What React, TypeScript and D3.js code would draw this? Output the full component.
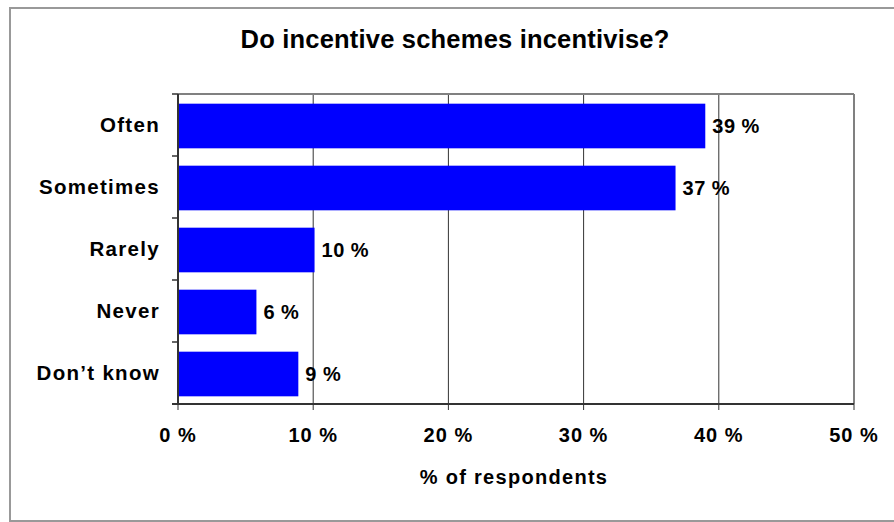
import React from "react";
import * as d3 from "d3";

const categories = ["Often", "Sometimes", "Rarely", "Never", "Don\u2019t know"];
const values = [39.0, 36.8, 10.1, 5.8, 8.9];
const ticks = [0, 10, 20, 30, 40, 50];
const title = "Do incentive schemes incentivise?";
const xTitle = "% of respondents";

const W = 894;
const H = 522;
const plot = { left: 178, right: 854, top: 94, bottom: 404 };
const FONT = "'Liberation Sans', Arial, sans-serif";

export default function App() {
  const x = d3.scaleLinear().domain([0, 50]).range([plot.left, plot.right]);
  const y = d3
    .scaleBand<string>()
    .domain(categories)
    .range([plot.top + 1, plot.bottom + 1])
    .paddingInner(0.28)
    .paddingOuter(0.14);
  const band = d3
    .scaleBand<string>()
    .domain(categories)
    .range([plot.top, plot.bottom]);
  const boundaries = [plot.top, ...categories.map((c) => (band(c) as number) + band.bandwidth())];

  return (
    <svg
      width={W}
      height={H}
      style={{ position: "absolute", left: 0, top: 0, background: "#fff" }}
    >
      <rect x={10} y={8} width={W + 20} height={513} fill="#fff" stroke="#999" strokeWidth={2} />
      <text
        x={455}
        y={48}
        textAnchor="middle"
        fontFamily={FONT}
        fontWeight="bold"
        fontSize={25.5}
        letterSpacing={0.2}
        fill="#000"
      >
        {title}
      </text>

      {/* gridlines */}
      {ticks.slice(1, -1).map((t) => (
        <line key={t} x1={x(t)} x2={x(t)} y1={plot.top} y2={plot.bottom} stroke="#333" strokeWidth={1} />
      ))}
      {/* plot frame top/right */}
      <line x1={plot.left} x2={plot.right} y1={plot.top} y2={plot.top} stroke="#808080" strokeWidth={2} />
      <line x1={plot.right} x2={plot.right} y1={plot.top} y2={plot.bottom} stroke="#808080" strokeWidth={2} />

      {/* bars */}
      {categories.map((c, i) => (
        <rect
          key={c}
          x={x(0)}
          y={y(c)}
          width={x(values[i]) - x(0)}
          height={y.bandwidth()}
          fill="#0000FF"
        />
      ))}
      {/* value labels */}
      {categories.map((c, i) => (
        <text
          key={c}
          x={x(values[i]) + 7}
          y={(y(c) as number) + y.bandwidth() / 2 + 7}
          fontFamily={FONT}
          fontWeight="bold"
          fontSize={20}
          letterSpacing={0.5}
          fill="#000"
        >
          {`${Math.round(values[i])} %`}
        </text>
      ))}

      {/* y axis */}
      <line x1={plot.left} x2={plot.left} y1={plot.top} y2={plot.bottom} stroke="#333" strokeWidth={2} />
      {boundaries.map((b, i) => (
        <line key={i} x1={plot.left - 6} x2={plot.left} y1={b} y2={b} stroke="#333" strokeWidth={1.5} />
      ))}
      {categories.map((c) => (
        <text
          key={c}
          x={160}
          y={(band(c) as number) + band.bandwidth() / 2 + 7}
          textAnchor="end"
          fontFamily={FONT}
          fontWeight="bold"
          fontSize={20.5}
          letterSpacing={1.3}
          fill="#000"
        >
          {c}
        </text>
      ))}

      {/* x axis */}
      <line x1={plot.left - 6} x2={plot.right} y1={plot.bottom} y2={plot.bottom} stroke="#333" strokeWidth={2} />
      {ticks.map((t) => (
        <line key={t} x1={x(t)} x2={x(t)} y1={plot.bottom} y2={plot.bottom + 6} stroke="#333" strokeWidth={1} />
      ))}
      {ticks.map((t) => (
        <text
          key={t}
          x={x(t)}
          y={442}
          textAnchor="middle"
          fontFamily={FONT}
          fontWeight="bold"
          fontSize={20}
          letterSpacing={1}
          fill="#000"
        >
          {`${t} %`}
        </text>
      ))}
      <text
        x={514}
        y={484}
        textAnchor="middle"
        fontFamily={FONT}
        fontWeight="bold"
        fontSize={20}
        letterSpacing={1.3}
        fill="#000"
      >
        {xTitle}
      </text>
    </svg>
  );
}
